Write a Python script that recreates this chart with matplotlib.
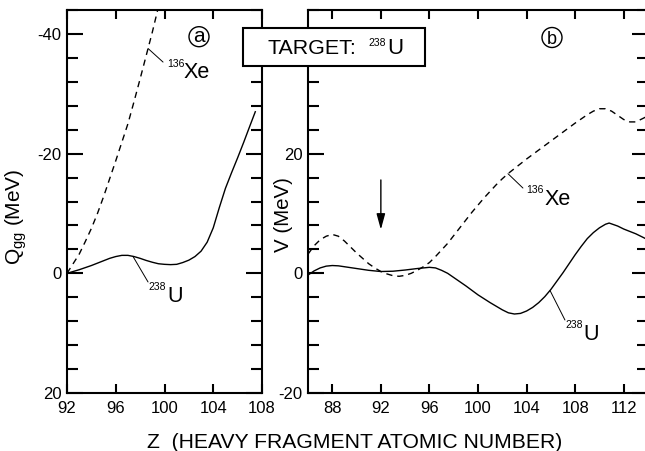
import matplotlib
matplotlib.use('Agg')
import matplotlib.pyplot as plt
import numpy as np
from matplotlib.ticker import MultipleLocator
from matplotlib.patches import Rectangle, Circle

plt.rcParams['font.family'] = ['Liberation Sans', 'DejaVu Sans']
plt.rcParams['mathtext.fontset'] = 'custom'
plt.rcParams['mathtext.rm'] = 'Liberation Sans'
plt.rcParams['mathtext.it'] = 'Liberation Sans:italic'
plt.rcParams['axes.unicode_minus'] = False

# ---------------- data ----------------
# panel (a): Q_gg vs Z
z_a_u = [92.0, 92.5, 93.0, 93.5, 94.0, 94.5, 95.0, 95.5, 96.0, 96.5, 97.0, 97.5,
         98.0, 98.5, 99.0, 99.5, 100.0, 100.5, 101.0, 101.5, 102.0, 102.5, 103.0,
         103.5, 104.0, 104.5, 105.0, 105.5, 106.0, 106.5, 107.0, 107.45]
q_a_u = [0.0, -0.3, -0.6, -0.95, -1.3, -1.7, -2.1, -2.5, -2.8, -3.0, -3.0, -2.8,
         -2.5, -2.15, -1.85, -1.6, -1.5, -1.45, -1.5, -1.8, -2.2, -2.8, -3.7,
         -5.2, -7.6, -11.0, -14.2, -16.8, -19.3, -21.9, -24.6, -27.0]
z_a_xe = [92.0, 92.5, 93.0, 93.5, 94.0, 94.5, 95.0, 95.5, 96.0, 96.5, 97.0, 97.5,
          98.0, 98.5, 99.0, 99.5]
q_a_xe = [0.0, -1.6, -3.2, -5.3, -7.5, -10.0, -12.8, -15.8, -18.8, -21.9, -25.0,
          -28.7, -32.5, -36.4, -40.3, -44.5]

# panel (b): V vs Z
z_b_u = [86.0, 86.5, 87.0, 87.5, 88.0, 88.5, 89.0, 90.0, 91.0, 92.0, 93.0, 94.0,
         95.0, 96.0, 96.5, 97.0, 97.5, 98.0, 99.0, 100.0, 101.0, 102.0, 102.5,
         103.0, 103.5, 104.0, 104.5, 105.0, 105.5, 106.0, 106.5, 107.0, 107.5,
         108.0, 108.5, 109.0, 109.5, 110.0, 110.5, 110.8, 111.5, 112.0, 113.0, 114.0]
v_b_u = [-0.3, 0.4, 0.9, 1.2, 1.3, 1.25, 1.1, 0.8, 0.5, 0.3, 0.35, 0.55,
         0.8, 1.0, 0.9, 0.5, 0.0, -0.7, -2.1, -3.6, -4.9, -6.1, -6.6,
         -6.8, -6.7, -6.3, -5.7, -4.9, -3.9, -2.7, -1.3, 0.1, 1.6,
         3.1, 4.5, 5.8, 6.8, 7.6, 8.2, 8.4, 7.9, 7.4, 6.6, 5.6]
z_b_xe = [86.0, 86.5, 87.0, 87.5, 88.0, 88.5, 89.0, 89.5, 90.0, 90.5, 91.0, 91.5,
          92.0, 92.5, 93.0, 93.5, 94.0, 94.5, 95.0, 95.5, 96.0, 96.5, 97.0, 97.5,
          98.0, 98.5, 99.0, 99.5, 100.0, 100.5, 101.0, 101.5, 102.0, 102.5, 103.0,
          104.0, 105.0, 106.0, 107.0, 108.0, 108.5, 109.0, 109.5, 110.0, 110.5,
          111.0, 111.5, 112.0, 112.5, 113.0, 113.5, 114.0]
v_b_xe = [3.2, 4.6, 5.6, 6.2, 6.5, 6.2, 5.4, 4.4, 3.4, 2.5, 1.6, 0.9,
          0.3, -0.1, -0.4, -0.5, -0.35, 0.0, 0.5, 1.1, 1.8, 2.8, 3.9, 5.0,
          6.3, 7.6, 8.9, 10.2, 11.4, 12.6, 13.7, 14.8, 15.8, 16.7, 17.5,
          19.1, 20.6, 22.1, 23.6, 25.1, 25.8, 26.5, 27.1, 27.5, 27.5,
          27.1, 26.4, 25.7, 25.3, 25.3, 25.8, 26.3]

xticks_a = [92, 96, 100, 104, 108]
yticks_a = [-40, -20, 0, 20]
xticks_b = [88, 92, 96, 100, 104, 108, 112]
yticks_b = [-20, 0, 20, 40]
yticklabels_b = ['-20', '0', '20', '']   # the 40 label sits under the TARGET box

# ---------------- figure ----------------
W, H = 645, 451
fig = plt.figure(figsize=(W / 100, H / 100), dpi=100)


def px_rect(l, t, r, b):
    return [l / W, 1 - b / H, (r - l) / W, (b - t) / H]


ax1 = fig.add_axes(px_rect(67, 10, 262, 393))
ax2 = fig.add_axes(px_rect(308, 10, 648, 393))


def style(ax):
    for s in ax.spines.values():
        s.set_linewidth(1.5)
    ax.tick_params(axis='y', which='major', direction='in', length=11.5, width=1.5,
                   left=True, right=True, labelsize=12, pad=4)
    ax.tick_params(axis='y', which='minor', direction='in', length=8, width=1.5,
                   left=True, right=True)
    ax.tick_params(axis='x', which='major', direction='in', length=6.5, width=1.5,
                   top=True, bottom=True, labelsize=12, pad=6)
    ax.yaxis.set_minor_locator(MultipleLocator(4))


# panel a
ax1.plot(z_a_xe, q_a_xe, color='black', lw=1.0, ls='--', dashes=(4.5, 3.5))
ax1.plot(z_a_u, q_a_u, color='black', lw=1.0)
ax1.set_xlim(92, 108)
ax1.set_ylim(20, -44)
ax1.set_xticks(xticks_a)
ax1.set_yticks(yticks_a)
style(ax1)

# panel b
ax2.plot(z_b_xe, v_b_xe, color='black', lw=1.0, ls='--', dashes=(4.5, 3.5))
ax2.plot(z_b_u, v_b_u, color='black', lw=1.0)
ax2.set_xlim(86, 114)
ax2.set_ylim(-20, 44)
ax2.set_xticks(xticks_b)
ax2.set_yticks(yticks_b)
ax2.set_yticklabels(yticklabels_b)
style(ax2)

lead = dict(arrowstyle='-', lw=0.7, color='black', shrinkA=0, shrinkB=0)


def pointer(ax, zs, vs, zc, zend, vend):
    vc = float(np.interp(zc, zs, vs))
    ax.annotate('', xy=(zc, vc), xytext=(zend, vend), arrowprops=lead)


# labels panel a
pointer(ax1, z_a_xe, q_a_xe, 98.65, 99.88, -35.3)
ax1.text(100.2, -34.5, '136', fontsize=7.5, va='baseline')
ax1.text(101.6, -32.6, 'Xe', fontsize=15.5, va='baseline')
pointer(ax1, z_a_u, q_a_u, 97.41, 98.65, 1.45)
ax1.text(98.65, 2.8, '238', fontsize=7.5, va='baseline')
ax1.text(100.2, 4.8, 'U', fontsize=15.5, va='baseline')

# labels panel b
pointer(ax2, z_b_xe, v_b_xe, 102.47, 103.7, 14.25)
ax2.text(103.95, 13.4, '136', fontsize=7.5, va='baseline')
ax2.text(105.5, 11.4, 'Xe', fontsize=15.5, va='baseline')
pointer(ax2, z_b_u, v_b_u, 105.93, 107.16, -7.8)
ax2.text(107.16, -9.1, '238', fontsize=7.5, va='baseline')
ax2.text(108.65, -11.1, 'U', fontsize=15.5, va='baseline')

# arrow at Z=92
ax2.annotate('', xy=(92, 7.3), xytext=(92, 15.6),
             arrowprops=dict(arrowstyle='-|>,head_length=0.95,head_width=0.26',
                             mutation_scale=10, lw=1.0, color='black',
                             shrinkA=0, shrinkB=0))

# axis labels
fig.text(355 / W, 1 - 448 / H, 'Z  (HEAVY FRAGMENT ATOMIC NUMBER)', fontsize=15.2,
         ha='center', va='baseline')
fig.text(16 / W, 1 - 217 / H, r'Q$_{\mathrm{gg}}$ (MeV)', fontsize=15,
         rotation=90, ha='center', va='center')
fig.text(283.5 / W, 1 - 215 / H, 'V (MeV)', fontsize=14.8,
         rotation=90, ha='center', va='center')

# circled panel letters
for cx, cy, letter, fs, base in [(199, 36.7, 'a', 15, 42.0), (552, 37.5, 'b', 13, 44.0)]:
    fig.add_artist(Circle((cx / 100, (H - cy) / 100), 0.1, transform=fig.dpi_scale_trans,
                          fill=False, ec='black', lw=1.0))
    fig.text(cx / W, 1 - base / H, letter, fontsize=fs, ha='center', va='baseline')

# target box
fig.add_artist(Rectangle((243 / 100, (H - 66) / 100), 1.82, 0.38,
                         transform=fig.dpi_scale_trans, fc='white', ec='black',
                         lw=1.5, zorder=5))
fig.text(267 / W, 1 - 53.5 / H, 'TARGET:', fontsize=15.4, va='baseline', zorder=6)
fig.text(368 / W, 1 - 45.5 / H, '238', fontsize=7.5, va='baseline', zorder=6)
fig.text(387 / W, 1 - 53.5 / H, 'U', fontsize=16, va='baseline', zorder=6)

fig.savefig('out.png', dpi=100)
